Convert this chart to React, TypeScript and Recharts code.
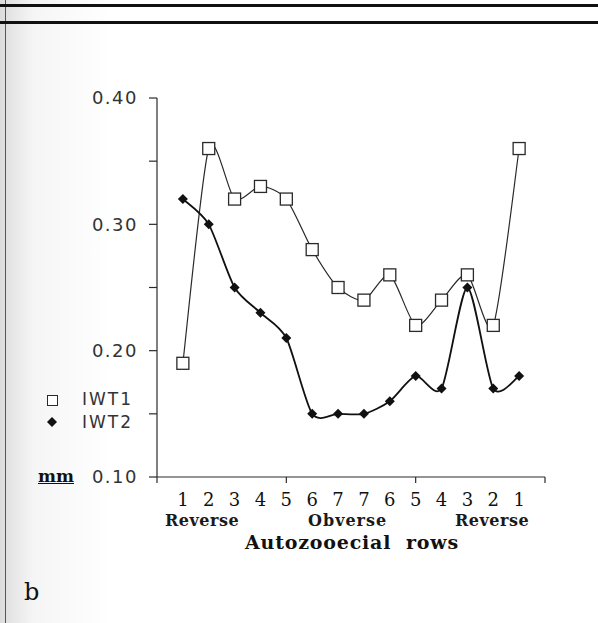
import { LineChart, Line, XAxis, YAxis } from "recharts";

// autozooecial row position along the branch (1..14), axis runs 0..15
const rowPos = [1, 2, 3, 4, 5, 6, 7, 8, 9, 10, 11, 12, 13, 14];
const rowLabels = ["1", "2", "3", "4", "5", "6", "7", "7", "6", "5", "4", "3", "2", "1"];
const iwt1 = [0.19, 0.36, 0.32, 0.33, 0.32, 0.28, 0.25, 0.24, 0.26, 0.22, 0.24, 0.26, 0.22, 0.36];
const iwt2 = [0.32, 0.3, 0.25, 0.23, 0.21, 0.15, 0.15, 0.15, 0.16, 0.18, 0.17, 0.25, 0.17, 0.18];
const yTicks = [0.1, 0.15, 0.2, 0.25, 0.3, 0.35, 0.4];
const xTicks = [0, 1, 2, 3, 4, 5, 6, 7, 8, 9, 10, 11, 12, 13, 14, 15];
const sideLabels = ["Reverse", "Obverse", "Reverse"];

const data = rowPos.map((x, i) => ({ x, label: rowLabels[i], iwt1: iwt1[i], iwt2: iwt2[i] }));

const INK = "#2a2a2a";
const SANS = "'DejaVu Sans', sans-serif";
const SERIF = "'DejaVu Serif', 'Liberation Serif', serif";

// cardinal-style smoothing with a bit of tension, like the old plotting package
const smooth: any = (context: any) => {
  let pts: number[][] = [];
  const k = 1 / 8;
  return {
    areaStart() {},
    areaEnd() {},
    lineStart() {
      pts = [];
    },
    point(x: number, y: number) {
      pts.push([+x, +y]);
    },
    lineEnd() {
      if (!pts.length) return;
      context.moveTo(pts[0][0], pts[0][1]);
      for (let i = 0; i < pts.length - 1; i++) {
        const p0 = pts[i - 1] || pts[i];
        const p1 = pts[i];
        const p2 = pts[i + 1];
        const p3 = pts[i + 2] || p2;
        context.bezierCurveTo(
          p1[0] + (p2[0] - p0[0]) * k,
          p1[1] + (p2[1] - p0[1]) * k,
          p2[0] - (p3[0] - p1[0]) * k,
          p2[1] - (p3[1] - p1[1]) * k,
          p2[0],
          p2[1]
        );
      }
    },
  };
};

const SquareDot = (props: any) => {
  const { cx, cy, index } = props;
  return <rect key={`s${index}`} x={cx - 6} y={cy - 6} width={12} height={12} fill="#fff" stroke={INK} strokeWidth={1.3} />;
};

const DiamondDot = (props: any) => {
  const { cx, cy, index } = props;
  return <path key={`d${index}`} d={`M${cx},${cy - 5} L${cx + 5},${cy} L${cx},${cy + 5} L${cx - 5},${cy} Z`} fill="#111" />;
};

const RowTick = (props: any) => {
  const { x, y, payload } = props;
  const v = payload.value;
  const label = v >= 1 && v <= rowLabels.length ? rowLabels[v - 1] : "";
  return (
    <g>
      {v % 5 === 0 && <line x1={x} x2={x} y1={y} y2={y + 6} stroke={INK} strokeWidth={1.2} />}
      {label && (
        <text x={x} y={y + 29} textAnchor="middle" fontFamily={SERIF} fontSize={18} fill="#111">
          {label}
        </text>
      )}
    </g>
  );
};

export default function App() {
  return (
    <div style={{ position: "absolute", left: 0, top: 0, width: 598, height: 623, background: "#fff", overflow: "hidden" }}>
      {/* scanned page edges */}
      <div style={{ position: "absolute", left: 0, top: 0, width: 110, height: 623, background: "linear-gradient(to right, #dcdcdc, #f5f5f5 30%, #fff)" }} />
      <div style={{ position: "absolute", left: 5, top: 0, width: 1, height: 623, background: "#555" }} />
      <div style={{ position: "absolute", left: 0, top: 4, width: 598, height: 3, background: "#111" }} />
      <div style={{ position: "absolute", left: 0, top: 21, width: 598, height: 3, background: "#111" }} />

      <div style={{ position: "absolute", left: 0, top: 0 }}>
        <LineChart width={598} height={623} data={data} margin={{ top: 98, right: 53, bottom: 116, left: 0 }}>
          <XAxis
            dataKey="x"
            type="number"
            domain={[0, 15]}
            ticks={xTicks}
            interval={0}
            height={30}
            tickLine={false}
            tickSize={0}
            tickMargin={0}
            axisLine={{ stroke: INK, strokeWidth: 1.2 }}
            tick={<RowTick />}
          />
          <YAxis
            type="number"
            domain={[0.1, 0.4]}
            ticks={yTicks}
            interval={0}
            width={157}
            tickSize={8}
            tickMargin={11}
            axisLine={{ stroke: INK, strokeWidth: 1.2 }}
            tickLine={{ stroke: INK, strokeWidth: 1.2 }}
            tick={{ fontSize: 18, fill: "#333", fontFamily: SANS, letterSpacing: 1.5 }}
            tickFormatter={(v: number) => (Math.round(v * 100) % 10 === 0 ? v.toFixed(2) : "")}
          />
          <Line dataKey="iwt1" type={smooth} stroke={INK} strokeWidth={1.2} dot={<SquareDot />} isAnimationActive={false} />
          <Line dataKey="iwt2" type={smooth} stroke="#111" strokeWidth={1.8} dot={<DiamondDot />} isAnimationActive={false} />
        </LineChart>
      </div>

      {/* legend */}
      <div style={{ position: "absolute", left: 47, top: 395, width: 9, height: 9, border: `1px solid ${INK}`, background: "#fff" }} />
      <div style={{ position: "absolute", left: 82, top: 389, fontFamily: SANS, fontSize: 17, color: "#333", letterSpacing: 2, lineHeight: "20px" }}>IWT1</div>
      <svg style={{ position: "absolute", left: 46, top: 416 }} width={12} height={12}>
        <path d="M6,1 L11,6 L6,11 L1,6 Z" fill="#111" />
      </svg>
      <div style={{ position: "absolute", left: 82, top: 412, fontFamily: SANS, fontSize: 17, color: "#333", letterSpacing: 2, lineHeight: "20px" }}>IWT2</div>

      <div style={{ position: "absolute", left: 38, top: 466, fontFamily: SERIF, fontWeight: 700, fontSize: 17, color: "#111", textDecoration: "underline", lineHeight: "20px" }}>mm</div>

      {/* x labels */}
      <div style={{ position: "absolute", left: 165, top: 511, fontFamily: SERIF, fontWeight: 700, fontSize: 16, color: "#1a1a1a", letterSpacing: 0.5 }}>{sideLabels[0]}</div>
      <div style={{ position: "absolute", left: 308, top: 511, fontFamily: SERIF, fontWeight: 700, fontSize: 16, color: "#1a1a1a", letterSpacing: 1 }}>{sideLabels[1]}</div>
      <div style={{ position: "absolute", left: 455, top: 511, fontFamily: SERIF, fontWeight: 700, fontSize: 16, color: "#1a1a1a", letterSpacing: 0.5 }}>{sideLabels[2]}</div>
      <div style={{ position: "absolute", left: 245, top: 531, fontFamily: SERIF, fontWeight: 700, fontSize: 19, color: "#111", whiteSpace: "pre", letterSpacing: 0.8 }}>Autozooecial  rows</div>

      <div style={{ position: "absolute", left: 24, top: 578, fontFamily: SERIF, fontSize: 24, color: "#111" }}>b</div>
    </div>
  );
}
